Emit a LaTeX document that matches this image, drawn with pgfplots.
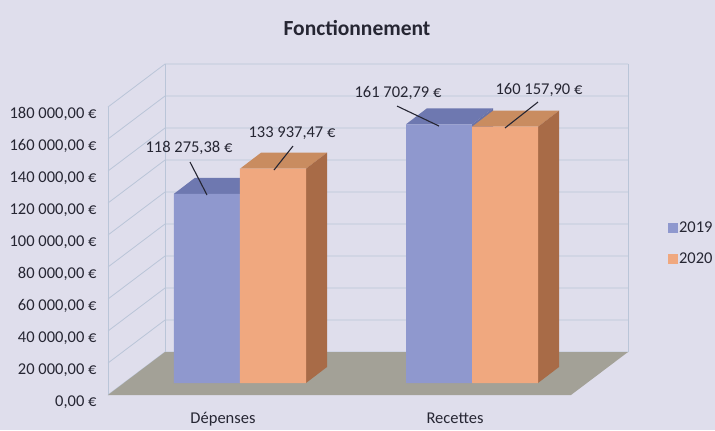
\documentclass[border=0pt]{standalone}
\usepackage{fontspec}
\setmainfont{Carlito}
\usepackage{pgfplots}
\pgfplotsset{compat=1.18}
\usetikzlibrary{backgrounds}
\definecolor{bgc}{HTML}{DFDEEC}
\definecolor{bluef}{HTML}{8F98CE}
\definecolor{bluet}{HTML}{6E78B0}
\definecolor{blues}{HTML}{6A72A6}
\definecolor{orf}{HTML}{F0A87F}
\definecolor{ort}{HTML}{C98C60}
\definecolor{ors}{HTML}{A86B47}
\definecolor{floorc}{HTML}{A3A197}
\definecolor{gridc}{HTML}{BAC5D8}
\definecolor{txt}{HTML}{262633}
\begin{document}
\begin{tikzpicture}
\begin{axis}[
  x=1pt, y=1.6pt,
  xmin=-16, xmax=504, ymin=-7.5, ymax=199.375,
  clip=false,
  axis line style={draw=none},
  major tick length=0pt,
  xtick={99,331}, xticklabels={Dépenses,Recettes},
  ytick={-7.5,12.5,32.5,52.5,72.5,92.5,112.5,132.5,152.5,172.5},
  yticklabels={{0,00 €},{20 000,00 €},{40 000,00 €},{60 000,00 €},{80 000,00 €},{100 000,00 €},{120 000,00 €},{140 000,00 €},{160 000,00 €},{180 000,00 €}},
  tick label style={font=\fontsize{16.5}{19}\selectfont, text=txt},
  xticklabel style={yshift=-14pt},
  yticklabel style={xshift=-8pt, yshift=-7pt},
  legend style={at={(axis cs:544,87.5)}, anchor=west, draw=none, fill=none, inner sep=0pt,
    font=\fontsize{16.5}{19}\selectfont, text=txt, row sep=16pt,
    nodes={inner sep=1.5pt}},
]
% background coordinates
\path (axis cs:-124,239.375) coordinate (TL);
\path (axis cs:591,-29.375) coordinate (BR);
% walls gridlines
\draw[gridc, line width=0.8pt] (axis cs:-16,-7.5) -- (axis cs:41,19.375) -- (axis cs:504,19.375);
\draw[gridc, line width=0.8pt] (axis cs:-16,12.5) -- (axis cs:41,39.375) -- (axis cs:504,39.375);
\draw[gridc, line width=0.8pt] (axis cs:-16,32.5) -- (axis cs:41,59.375) -- (axis cs:504,59.375);
\draw[gridc, line width=0.8pt] (axis cs:-16,52.5) -- (axis cs:41,79.375) -- (axis cs:504,79.375);
\draw[gridc, line width=0.8pt] (axis cs:-16,72.5) -- (axis cs:41,99.375) -- (axis cs:504,99.375);
\draw[gridc, line width=0.8pt] (axis cs:-16,92.5) -- (axis cs:41,119.375) -- (axis cs:504,119.375);
\draw[gridc, line width=0.8pt] (axis cs:-16,112.5) -- (axis cs:41,139.375) -- (axis cs:504,139.375);
\draw[gridc, line width=0.8pt] (axis cs:-16,132.5) -- (axis cs:41,159.375) -- (axis cs:504,159.375);
\draw[gridc, line width=0.8pt] (axis cs:-16,152.5) -- (axis cs:41,179.375) -- (axis cs:504,179.375);
\draw[gridc, line width=0.8pt] (axis cs:-16,172.5) -- (axis cs:41,199.375) -- (axis cs:504,199.375);
\draw[gridc, line width=0.8pt] (axis cs:-16,-7.5) -- (axis cs:-16,172.5);
\draw[gridc, line width=0.8pt] (axis cs:41,19.375) -- (axis cs:41,199.375);
\draw[gridc, line width=0.8pt] (axis cs:504,19.375) -- (axis cs:504,199.375);
% floor
\addplot[fill=floorc, draw=none, mark=none, forget plot] coordinates {(-16,-7.5) (447,-7.5) (504,19.375) (41,19.375)} -- cycle;
% 2019 bars: top and side faces, then front faces
\addplot[fill=bluet, draw=none, mark=none, forget plot] coordinates {(50,118.275) (71,128.275) (137,128.275) (116,118.275)} -- cycle;
\addplot[fill=blues, draw=none, mark=none, forget plot] coordinates {(116,0) (137,10) (137,128.275) (116,118.275)} -- cycle;
\addplot[fill=bluet, draw=none, mark=none, forget plot] coordinates {(282,161.703) (303,171.703) (369,171.703) (348,161.703)} -- cycle;
\addplot[fill=blues, draw=none, mark=none, forget plot] coordinates {(348,0) (369,10) (369,171.703) (348,161.703)} -- cycle;
\addplot[ybar, bar width=66, bar shift=0pt, fill=bluef, draw=none, mark=none, forget plot] coordinates {(83,118.27538) (315,161.70279)};
% 2020 bars
\addplot[fill=ort, draw=none, mark=none, forget plot] coordinates {(116,133.937) (137,143.937) (203,143.937) (182,133.937)} -- cycle;
\addplot[fill=ors, draw=none, mark=none, forget plot] coordinates {(182,0) (203,10) (203,143.937) (182,133.937)} -- cycle;
\addplot[fill=ort, draw=none, mark=none, forget plot] coordinates {(348,160.158) (369,170.158) (435,170.158) (414,160.158)} -- cycle;
\addplot[fill=ors, draw=none, mark=none, forget plot] coordinates {(414,0) (435,10) (435,170.158) (414,160.158)} -- cycle;
\addplot[ybar, bar width=66, bar shift=0pt, fill=orf, draw=none, mark=none, forget plot] coordinates {(149,133.93747) (381,160.15790)};
% legend
\addlegendimage{legend image code/.code={\fill[bluef] (0pt,-4.5pt) rectangle (9pt,4.5pt);}}
\addlegendentry{2019}
\addlegendimage{legend image code/.code={\fill[orf] (0pt,-4.5pt) rectangle (9pt,4.5pt);}}
\addlegendentry{2020}
% data labels
\begin{scope}[font=\fontsize{16.5}{19}\selectfont, text=txt]
\node at (axis cs:65,146.9) {118 275,38 €};
\node at (axis cs:168,156.25) {133 937,47 €};
\node at (axis cs:274,181.25) {161 702,79 €};
\node at (axis cs:415,183.1) {160 157,90 €};
\end{scope}
\draw[txt, line width=1.1pt] (axis cs:66,138.1) -- (axis cs:83,117.5);
\draw[txt, line width=1.1pt] (axis cs:169,148.1) -- (axis cs:150,133.1);
\draw[txt, line width=1.1pt] (axis cs:273,173.1) -- (axis cs:315,160.6);
\draw[txt, line width=1.1pt] (axis cs:414,175.6) -- (axis cs:381,159.4);
% title
\node[font=\bfseries\fontsize{21.5}{25}\selectfont, text=txt] at (axis cs:233,221.9) {Fonctionnement};
\end{axis}
\begin{scope}[on background layer]
\fill[bgc] (TL) rectangle (BR);
\end{scope}
\pgfresetboundingbox
\path[use as bounding box] (TL) rectangle (BR);
\end{tikzpicture}
\end{document}
